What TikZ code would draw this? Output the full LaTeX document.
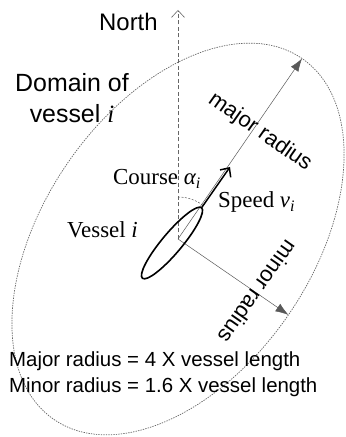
\documentclass[tikz,border=0pt]{standalone}
\usepackage{fontspec}
\setmainfont{Liberation Sans}
\newfontfamily\tnr{Liberation Serif}
\usetikzlibrary{arrows.meta,positioning,calc,shapes.geometric}

\begin{document}
\begin{tikzpicture}[x=1bp,y=1bp,
  sanslbl/.style={inner sep=0pt,font=\fontsize{22}{26}\selectfont},
  seriflbl/.style={inner sep=0pt,font=\tnr\fontsize{23}{27}\selectfont},
  thin line/.style={draw=black!65,line width=0.5bp},
  radius arrow/.style={thin line,-{Latex[length=13bp,width=9bp]}},
  domainbox/.style={draw=black!60,line width=0.7bp,dash pattern=on 1.4bp off 1.1bp,
                 ellipse,inner sep=0pt,outer sep=0pt},
  northline/.style={draw=black!60,line width=0.6bp,dash pattern=on 4bp off 2.5bp,
                    -{Straight Barb[length=7bp,width=13bp]}},
  ship/.style={draw,line width=1.6bp,ellipse,inner sep=0pt,outer sep=0pt},
  speed/.style={draw,line width=1.5bp,-{Straight Barb[length=7bp,width=13bp]}}]
\useasboundingbox (0,0) rectangle (345,437);

% ---- reference points ----
\coordinate (o) at (178,198);
\coordinate (ntop) at (178,427);
\coordinate (spdtip) at (230,270);

% ---- domain of the vessel ----
\node[domainbox,minimum width=438bp,minimum height=268bp,rotate=55.5] (dom) at (o) {};
\draw[northline] (o) -- (ntop);
\draw[radius arrow] (o) -- (dom.east);
\draw[radius arrow] (o) -- (dom.south);
\draw[thin line,dash pattern=on 2bp off 1.5bp] ($(o)+(90:42)$) arc[start angle=90,end angle=54,radius=42];

% ---- vessel ----
\node[ship,minimum width=92bp,minimum height=20bp,rotate=50] (vessel) at (172,194) {};
\draw[speed] (vessel.east) -- (spdtip);

% ---- labels ----
\node[sanslbl,font=\fontsize{24}{28}\selectfont,anchor=base west] (north) at (99,406) {North};
\node[sanslbl,font=\fontsize{25}{28}\selectfont,align=center,anchor=north] (domlbl) at (72,364)
  {Domain of\\[3bp]vessel {\tnr\itshape i}};
\node[seriflbl,anchor=base west] (course) at (113,252) {Course {\itshape α\textsubscript{i}}};
\node[seriflbl,anchor=base west] (spdlbl) at (218,229) {Speed {\itshape v\textsubscript{i}}};
\node[seriflbl,anchor=base west] (vlbl) at (67,199) {Vessel {\itshape i}};
\node[sanslbl,rotate=-35] (majlbl) at (260,305) {major radius};
\node[sanslbl,rotate=-125] (minlbl) at (258,145) {minor radius};
\node[sanslbl,font=\fontsize{20.5}{26}\selectfont,align=left,anchor=north west] (note) at (9,85)
  {Major radius = 4 X vessel length\\Minor radius = 1.6 X vessel length};
\end{tikzpicture}
\end{document}
